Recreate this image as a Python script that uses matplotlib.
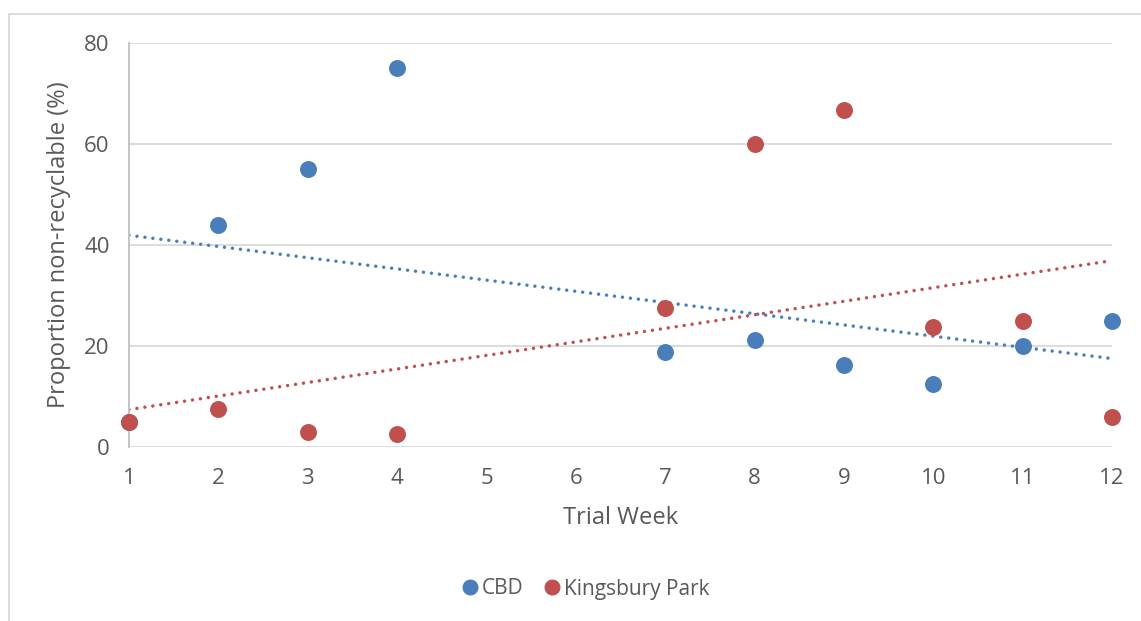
import numpy as np
import matplotlib.pyplot as plt
from matplotlib.lines import Line2D

weeks = [1, 2, 3, 4, 7, 8, 9, 10, 11, 12]
cbd = [5, 44, 55, 75, 18.75, 21.25, 16.25, 12.5, 20, 25]
kingsbury = [5, 7.5, 3, 2.5, 27.5, 60, 66.67, 23.75, 25, 6]
series_names = ["CBD", "Kingsbury Park"]
series_colors = ["#4a7ebb", "#c0504d"]

plt.rcParams['font.family'] = ['Open Sans', 'DejaVu Sans']
text_color = "#595959"

fig = plt.figure(figsize=(11.41, 6.21), dpi=100)
ax = fig.add_axes([129/1141, 1 - 447/621, (1112-129)/1141, (447-43)/621])

x = np.array(weeks)
xs = np.linspace(1, 12, 100)
for vals, name, col in zip([cbd, kingsbury], series_names, series_colors):
    ax.scatter(weeks, vals, s=125, color=col, zorder=3, clip_on=False, label=name)
    # linear trendline like Excel
    k, b = np.polyfit(x, vals, 1)
    ax.plot(xs, k*xs + b, color=col, linestyle=(0, (0.01, 2.3)), linewidth=2.5,
            dash_capstyle='round', zorder=2)

ax.set_xlim(1, 12)
ax.set_ylim(0, 80)
ax.set_xticks(range(1, 13))
ax.set_yticks(range(0, 81, 20))
ax.grid(axis='y', color='#d9d9d9', linewidth=1.3)
ax.set_axisbelow(True)
for s in ['top', 'right', 'bottom']:
    ax.spines[s].set_visible(False)
ax.spines['left'].set_color('#bfbfbf')
ax.spines['left'].set_linewidth(1.3)
ax.tick_params(axis='both', length=0, labelsize=16, colors=text_color)
ax.tick_params(axis='x', pad=15)
ax.tick_params(axis='y', pad=14)

ax.set_xlabel("Trial Week", fontsize=17, color=text_color)
ax.set_ylabel("Proportion non-recyclable (%)", fontsize=17, color=text_color)
ax.xaxis.label.set_va('center')
ax.yaxis.label.set_va('center')
ax.xaxis.set_label_coords(0.5, -(518 - 447) / 404)
ax.yaxis.set_label_coords((59 - 129) / 983, 0.5)

handles = [Line2D([], [], marker='o', linestyle='none', markersize=10.5,
                  color=c, label=n) for n, c in zip(series_names, series_colors)]
leg = fig.legend(handles=handles, loc='center', bbox_to_anchor=(584.5/1141, 1 - 589/621),
                 ncol=2, frameon=False, fontsize=15, handletextpad=0.1,
                 columnspacing=0.85, handlelength=1.0)
for t in leg.get_texts():
    t.set_color(text_color)

# outer chart frame (cropped on right and bottom)
fig.add_artist(Line2D([9/1141, 9/1141], [0, 1 - 14/621], color='#d9d9d9', linewidth=1.3))
fig.add_artist(Line2D([9/1141, 1], [1 - 14/621, 1 - 14/621], color='#d9d9d9', linewidth=1.3))

fig.savefig("out.png", dpi=100, facecolor='white')
